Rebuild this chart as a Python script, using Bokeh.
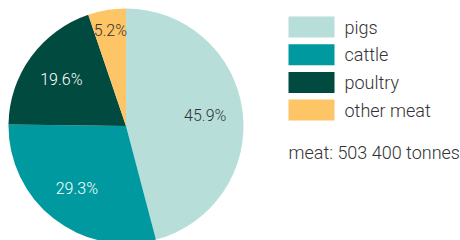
import math
from bokeh.plotting import figure
from bokeh.models import Range1d, ColumnDataSource
from bokeh.core.properties import value
from bokeh.embed import file_html
from bokeh.resources import INLINE

categories = ["pigs", "cattle", "poultry", "other meat"]
shares = [45.9, 29.3, 19.6, 5.2]
colors = ["#b7ded9", "#00999f", "#004a40", "#fdc566"]
label_colors = ["#333333", "#ffffff", "#ffffff", "#333333"]
total_label = "meat: 503 400 tonnes"

W, H = 460, 240
FONT = "Roboto Light"

p = figure(width=W, height=H, x_range=Range1d(0, W), y_range=Range1d(0, H),
           output_backend="svg", toolbar_location=None, min_border=0)
p.axis.visible = False
p.grid.visible = False
p.outline_line_color = None
p.background_fill_color = "white"

cx, cy, R = 125.5, H - 125.5, 117.5
tot = sum(shares)
starts, ends, lx, ly = [], [], [], []
cum = 0.0
for s in shares:
    a0 = math.pi / 2 - 2 * math.pi * cum / tot
    a1 = math.pi / 2 - 2 * math.pi * (cum + s) / tot
    starts.append(a0)
    ends.append(a1)
    mid = (a0 + a1) / 2
    rr = R * (0.82 if s / tot < 0.1 else 0.68)
    lx.append(cx + rr * math.cos(mid))
    ly.append(cy + rr * math.sin(mid))
    cum += s

src = ColumnDataSource(dict(start=starts, end=ends, color=colors, lx=lx, ly=ly,
                            lab=[f"{s}%" for s in shares], lc=label_colors))
p.wedge(x=cx, y=cy, radius=R, start_angle="start", end_angle="end",
        direction="clock", fill_color="color", line_color=None, source=src)
p.text(x="lx", y="ly", text="lab", text_color="lc", text_font=value(FONT),
       text_font_size="16px", text_align="center", text_baseline="middle", source=src)

# legend
step = 27.7
top0 = 16
ry = [H - (top0 + 10.5 + i * step) for i in range(len(categories))]
p.rect(x=[311] * len(categories), y=ry, width=46, height=21, fill_color=colors, line_color=None)
p.text(x=[344] * len(categories), y=ry, text=categories, text_color="#333333",
       text_font=value(FONT), text_font_size="18px", text_baseline="middle")
p.text(x=[288], y=[H - 152], text=[total_label], text_color="#333333",
       text_font=value(FONT), text_font_size="18px", text_baseline="middle")

open("out.html", "w").write(file_html(p, INLINE))
